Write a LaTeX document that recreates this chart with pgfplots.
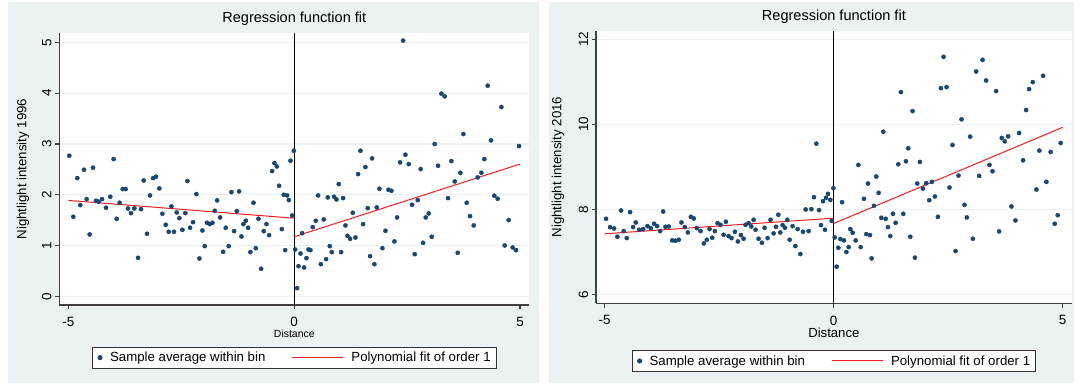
\documentclass[border=0pt]{standalone}
\usepackage{pgfplots}
\pgfplotsset{compat=1.18}
\usepackage{fontspec}
\setmainfont{Liberation Sans}
\definecolor{statabg}{RGB}{234,242,243}
\definecolor{statagrid}{RGB}{232,240,242}
\definecolor{statanavy}{RGB}{26,71,111}
\definecolor{statared}{RGB}{240,30,30}

\pgfplotstableread{
x y
-4.978 2.769
-4.889 1.568
-4.801 2.329
-4.734 1.798
-4.653 2.493
-4.594 1.916
-4.527 1.220
-4.453 2.533
-4.387 1.883
-4.328 1.864
-4.254 1.916
-4.165 1.745
-4.069 1.962
-3.996 2.703
-3.929 1.529
-3.863 1.844
-3.796 2.113
-3.730 2.113
-3.678 1.732
-3.612 1.640
-3.538 1.732
-3.456 0.761
-3.390 1.719
-3.331 2.283
-3.257 1.234
-3.191 1.988
-3.124 2.329
-3.058 2.356
-2.984 2.126
-2.917 1.627
-2.843 1.411
-2.777 1.273
-2.718 1.772
-2.659 1.273
-2.600 1.654
-2.541 1.542
-2.474 1.312
-2.408 1.640
-2.363 2.270
-2.304 1.352
-2.238 1.463
-2.164 2.014
-2.097 0.748
-2.031 1.299
-1.979 0.991
-1.928 1.450
-1.869 1.424
-1.809 1.450
-1.758 1.686
-1.706 1.890
-1.640 1.555
-1.573 0.879
-1.514 1.352
-1.448 0.991
-1.388 2.054
-1.329 1.286
-1.270 1.680
-1.219 2.067
-1.167 1.181
-1.123 1.424
-1.071 1.490
-1.019 1.352
-0.968 0.873
-0.901 1.844
-0.849 0.951
-0.790 1.529
-0.731 0.545
-0.672 1.286
-0.613 1.424
-0.554 1.207
-0.487 2.467
-0.436 2.625
-0.384 2.559
-0.332 2.178
-0.273 1.325
-0.229 2.001
-0.199 0.912
-0.155 1.988
-0.118 1.896
-0.081 2.671
-0.044 1.594
-0.007 2.867
0.022 0.925
0.066 0.164
0.096 0.597
0.140 0.846
0.177 1.247
0.221 0.571
0.273 0.755
0.317 0.925
0.361 0.912
0.413 1.365
0.479 1.490
0.531 1.988
0.590 0.636
0.656 1.516
0.708 0.735
0.745 1.949
0.789 0.991
0.833 0.873
0.885 1.962
0.937 1.909
0.988 2.211
1.040 0.873
1.084 1.936
1.136 1.398
1.180 1.194
1.239 1.135
1.298 1.647
1.357 1.161
1.416 2.408
1.468 2.867
1.527 1.424
1.578 2.546
1.630 1.739
1.681 0.794
1.726 2.717
1.777 0.636
1.829 1.752
1.888 2.119
1.954 0.951
2.021 1.293
2.087 2.100
2.153 2.080
2.220 1.083
2.279 1.555
2.345 2.638
2.412 5.033
2.463 2.789
2.537 2.605
2.611 1.804
2.670 0.833
2.736 1.896
2.802 2.507
2.854 1.056
2.913 1.555
2.979 1.634
3.046 1.175
3.112 2.999
3.186 2.572
3.260 3.990
3.333 3.937
3.407 1.936
3.481 2.664
3.555 2.264
3.621 0.860
3.680 2.434
3.746 3.196
3.820 1.844
3.894 1.581
3.975 1.398
4.063 2.343
4.145 2.434
4.211 2.703
4.285 4.147
4.358 3.071
4.432 1.982
4.506 1.923
4.587 3.727
4.661 1.004
4.749 1.503
4.838 0.965
4.912 0.912
4.978 2.959
}\dataA

\pgfplotstableread{
x y
-4.971 7.776
-4.883 7.581
-4.796 7.549
-4.723 7.354
-4.643 7.972
-4.585 7.487
-4.519 7.322
-4.446 7.933
-4.380 7.581
-4.322 7.690
-4.249 7.518
-4.162 7.534
-4.067 7.604
-3.994 7.557
-3.921 7.659
-3.856 7.604
-3.790 7.487
-3.724 7.948
-3.673 7.588
-3.601 7.596
-3.528 7.268
-3.455 7.260
-3.382 7.283
-3.324 7.690
-3.251 7.581
-3.185 7.455
-3.120 7.823
-3.054 7.784
-2.988 7.557
-2.908 7.487
-2.835 7.197
-2.770 7.283
-2.711 7.534
-2.653 7.330
-2.595 7.487
-2.536 7.674
-2.471 7.635
-2.405 7.401
-2.354 7.706
-2.296 7.369
-2.230 7.322
-2.157 7.471
-2.092 7.244
-2.026 7.393
-1.968 7.307
-1.924 7.635
-1.859 7.674
-1.800 7.596
-1.749 7.753
-1.706 7.518
-1.640 7.307
-1.567 7.213
-1.509 7.565
-1.443 7.322
-1.378 7.753
-1.312 7.432
-1.261 7.588
-1.210 7.870
-1.166 7.455
-1.115 7.628
-1.064 7.565
-1.013 7.753
-0.962 7.283
-0.897 7.604
-0.838 7.135
-0.787 7.534
-0.729 6.947
-0.671 7.471
-0.612 7.995
-0.547 7.487
-0.488 8.003
-0.430 8.285
-0.379 9.545
-0.321 7.980
-0.277 7.628
-0.233 8.191
-0.190 7.518
-0.168 8.269
-0.124 8.363
-0.073 8.222
-0.044 7.729
-0.007 8.496
0.022 7.338
0.065 6.649
0.102 7.095
0.145 7.299
0.182 8.167
0.225 7.268
0.276 6.994
0.327 7.111
0.363 7.534
0.414 7.448
0.480 7.268
0.538 9.044
0.589 7.111
0.661 8.246
0.712 7.416
0.749 8.606
0.792 7.393
0.828 6.845
0.879 8.081
0.930 8.770
0.981 8.387
1.039 7.800
1.083 9.826
1.134 7.776
1.185 7.581
1.235 7.369
1.294 7.894
1.352 7.682
1.410 9.059
1.468 10.757
1.519 7.894
1.577 9.130
1.628 9.435
1.672 7.354
1.722 10.311
1.773 6.861
1.824 8.606
1.882 9.114
1.948 8.488
2.020 8.613
2.086 8.214
2.144 8.645
2.209 8.300
2.275 7.823
2.340 10.851
2.398 11.587
2.464 10.875
2.529 8.512
2.594 9.513
2.660 7.017
2.725 8.793
2.791 10.116
2.856 8.105
2.907 7.808
2.980 9.709
3.038 7.307
3.110 11.243
3.176 8.786
3.249 11.516
3.328 11.031
3.401 9.044
3.467 8.895
3.547 10.781
3.612 7.479
3.670 9.678
3.735 9.599
3.808 9.717
3.881 8.066
3.968 7.737
4.048 9.795
4.135 9.153
4.201 10.335
4.266 10.828
4.346 10.992
4.426 8.465
4.491 9.380
4.571 11.141
4.644 8.645
4.738 9.349
4.826 7.659
4.891 7.862
4.956 9.560
}\dataB

\pgfplotsset{
  statapanel/.style={
    scale only axis,
    anchor=south west,
    axis x line*=bottom,
    axis y line*=left,
    axis line style={black!75, line width=1.1bp, -},
    tick align=outside,
    major tick length=4.3bp,
    every tick/.style={black!75, line width=1.1bp},
    axis background/.style={fill=white},
    ymajorgrids,
    grid style={statagrid, line width=1.2bp},
    /pgf/number format/assume math mode=true,
    xtick={-5,0,5},
    xticklabels={-5,0,5},
    ticklabel style={font=\fontsize{13.5}{15}\selectfont},
    xticklabel style={yshift=-4.5bp},
    yticklabel style={rotate=90, anchor=south},
    title style={font=\fontsize{14.6}{16}\selectfont, at={(0.5,1)}, anchor=base, yshift=4.5bp},
    ylabel style={font=\fontsize{13.3}{15}\selectfont, anchor=center},
    legend columns=2,
    legend style={
      anchor=north,
      draw=black!80, line width=0.9bp, fill=white,
      font=\fontsize{13.3}{15}\selectfont,
      inner xsep=5.5bp, inner ysep=2.5bp,
      nodes={inner xsep=0bp, inner ysep=2.5bp},
      /tikz/column 1/.style={column sep=7.9bp},
      /tikz/column 2/.style={column sep=26bp},
      /tikz/column 3/.style={column sep=8bp},
    },
  },
  dotstyle/.style={only marks, mark=*, mark size=2.1bp, color=statanavy,
    mark options={fill=statanavy, draw=statanavy},
    legend image code/.code={\draw[##1] plot coordinates {(0bp,0bp)};}},
  fitstyle/.style={statared, line width=1bp, no marks,
    legend image code/.code={\draw[##1] (0bp,0bp) -- (51bp,0bp);}},
}

\begin{document}
\begin{tikzpicture}[x=1bp,y=1bp]
\useasboundingbox (0,0) rectangle (1079,385);
\fill[white] (0,0) rectangle (1079,385);
\fill[statabg] (8,2) rectangle (539,383);
\fill[statabg] (549,2) rectangle (1074,383);

% left panel
\begin{axis}[statapanel,
  at={(59.3bp,80bp)}, width=470bp, height=272bp,
  xmin=-5.199, xmax=5.206, ymin=-0.167, ymax=5.183,
  ytick={0,1,2,3,4,5},
  title={Regression function fit},
  xlabel={Distance},
  xlabel style={font=\fontsize{10.5}{12}\selectfont, at={(axis description cs:0.5,-0.104)}, anchor=center},
  ylabel={Nightlight intensity 1996},
  ylabel style={at={(axis description cs:-0.0772,0.5)}},
  legend style={at={(axis description cs:0.5,-0.153)}},
]
\addplot[black, line width=1bp, forget plot] coordinates {(0,-0.167) (0,5.183)};
\addplot[dotstyle] table[x=x,y=y] {\dataA};
\addlegendentry{Sample average within bin}
\addplot[fitstyle] coordinates {(-5,1.89) (0,1.54)};
\addlegendentry{Polynomial fit of order 1\hspace{7bp}}
\addplot[fitstyle, forget plot] coordinates {(0,1.175) (5,2.605)};
\end{axis}

% right panel
\begin{axis}[statapanel,
  at={(596bp,81.7bp)}, width=475.7bp, height=272.3bp,
  xmin=-5.19, xmax=5.197, ymin=5.788, ymax=12.195,
  ytick={6,8,10,12},
  title={Regression function fit},
  xlabel={Distance},
  xlabel style={font=\fontsize{13.2}{15}\selectfont, at={(axis description cs:0.5,-0.107)}, anchor=center},
  ylabel={Nightlight intensity 2016},
  ylabel style={at={(axis description cs:-0.0799,0.5)}},
  legend style={at={(axis description cs:0.5,-0.1715)}},
]
\addplot[black, line width=1bp, forget plot] coordinates {(0,5.788) (0,12.195)};
\addplot[dotstyle] table[x=x,y=y] {\dataB};
\addlegendentry{Sample average within bin}
\addplot[fitstyle] coordinates {(-5,7.424) (0,7.792)};
\addlegendentry{Polynomial fit of order 1\hspace{8bp}}
\addplot[fitstyle, forget plot] coordinates {(0,7.667) (5,9.928)};
\end{axis}
\end{tikzpicture}
\end{document}
